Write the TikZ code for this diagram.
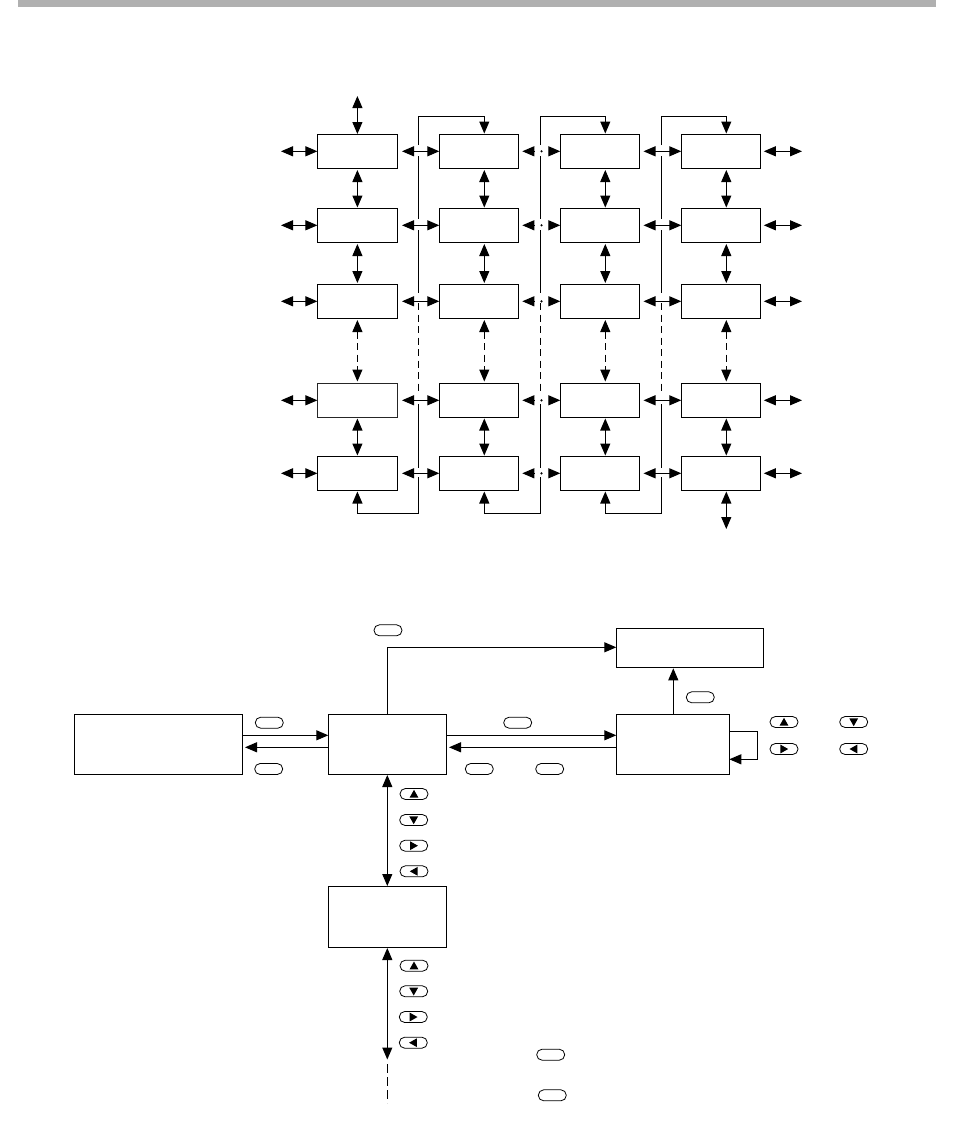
\documentclass[tikz,border=0pt]{standalone}
\usetikzlibrary{arrows.meta}
\tikzset{
  x=1pt,y=-1pt,
  every path/.append style={line width=1.1pt},
  box/.style={draw=black,line width=1.1pt,rectangle,inner sep=0pt,outer sep=0pt,minimum width=#1},
  gridbox/.style={box=80pt,minimum height=34pt},
  tipa/.tip={Triangle[length=12pt,width=10pt]},
  one/.style={-{tipa}},
  two/.style={{tipa}-{tipa}},
  dsh/.style={dash pattern=on 7pt off 4.5pt},
  pill/.style={draw=black,line width=0.8pt,rounded corners=5.4pt,rectangle,inner sep=0pt,outer sep=0pt,minimum width=28pt,minimum height=11pt},
}
\newcommand{\keytri}[3]{% name, position, rotation of the triangle
  \node[pill] (#1) at (#2) {};
  \fill[rotate around={#3:(#1.center)}] ([yshift=4.2pt]#1.center) -- ([xshift=-4.4pt,yshift=-3.6pt]#1.center) -- ([xshift=4.4pt,yshift=-3.6pt]#1.center) -- cycle;
}
\begin{document}
\begin{tikzpicture}
\useasboundingbox (0,0) rectangle (963,1125);
\fill[black!31] (18,0) rectangle (936,7);
% grid boxes
\foreach \c/\x/\w in {1/357.4/80,2/478.8/79,3/599.8/79,4/720.8/79}{
  \foreach \r/\y in {1/151.3,2/225.3,3/301.3,4/400.3,5/473.3}{
    \node[gridbox,minimum width=\w pt] (g\r\c) at (\x,\y) {};
  }
}
\node[gridbox,minimum width=80pt,draw=black!85,line width=1.2pt,fill=white] (g41) at (357.4,400.3) {};
% named free ends
\coordinate (top1) at (357.4,96);
\coordinate (bot4) at (726.3,529);
\foreach \r/\y in {1/151.3,2/225.3,3/301.3,4/400.3,5/473.3}{
  \coordinate (ll\r) at (281,\y);
  \coordinate (rr\r) at (802,\y);
  \draw[two] (ll\r) -- (g\r1.west);
  \draw[two] (g\r4.east) ++(3.5,0) -- (rr\r);
  \draw[two] (402,\y) -- (g\r2.west);
  \draw[two] (643.5,\y) -- (g\r4.west);
  % broken connector across the middle trunk
  \coordinate (mm\r) at (541.5,\y);
  \draw[one] (534,\y) -- (522.3,\y);
  \draw[one] (549,\y) -- (g\r3.west);
  \fill (mm\r) circle (1.2pt);
}
% vertical connectors
\foreach \c/\x in {1/357.4,2/484.3,3/605.3,4/726.3}{
  \draw[two] (\x,170) -- (\x,207.5);
  \draw[two] (\x,244) -- (\x,283);
  \draw[two,dsh] (\x,320) -- (\x,381.5);
  \draw[two] (\x,418.5) -- (\x,455.5);
}
\draw[two] (top1) -- (357.4,134);
\draw[two] (726.3,491.5) -- (bot4);
% trunks
\foreach \x/\tx/\bx in {418.3/484.3/357.4,540.3/605.3/484.3,661.7/726.3/605.3}{
  \draw[one] (\x,145) -- (\x,116.5) -- (\tx,116.5) -- (\tx,133.5);
  \draw (\x,156) -- (\x,219);
  \draw (\x,230) -- (\x,293);
  \draw[dsh] (\x,303) -- (\x,395);
  \draw (\x,404) -- (\x,468);
  \draw[one] (\x,477) -- (\x,513.3) -- (\bx,513.3) -- (\bx,491.5);
}
% lower diagram
\node[box=168pt,minimum height=60pt] (left) at (158.3,744.3) {};
\node[box=118.4pt,minimum height=60pt] (mid) at (387.5,744.3) {};
\node[box=118.4pt,minimum height=61pt] (low) at (387.5,916.8) {};
\node[box=113pt,minimum height=60pt] (rgt) at (672.8,744.3) {};
\node[box=147pt,minimum height=39pt] (top) at (689.8,647.8) {};
\coordinate (end) at (387.3,1103);
\coordinate (mide) at (387.3,1059.5);
\draw[one] (387.3,714.3) -- (387.3,647.3) -- (top.west |- 0,647.3);
\draw[one] (673.3,714.3) -- (673.3,668.3);
\draw[one] (left.east |- 0,735.3) -- (mid.west |- 0,735.3);
\draw[one] (mid.west |- 0,747.3) -- (245,747.3);
\draw[one] (mid.east |- 0,735.3) -- (rgt.west |- 0,735.3);
\draw[one] (rgt.west |- 0,747.3) -- (449,747.3);
\draw[one] (rgt.east |- 0,731.3) -- (757.3,731.3) -- (757.3,759.3) -- (rgt.east |- 0,759.3);
\draw[two] (387.3,775) -- (387.3,886);
\draw[two] (387.3,948) -- (mide);
\draw[dash pattern=on 9pt off 4pt] (387.3,1064) -- (end);
% keys without a triangle
\foreach \n/\p in {k1/{388,630.3},k2/{269.3,722.7},k3/{268.7,769},k4/{517.7,722.7},k5/{479.3,769},k6/{549.7,769},k7/{700.3,697.3},k8/{550.7,1054.7},k9/{552.3,1095.3}}{
  \node[pill] (\n) at (\p) {};
}
% keys with a triangle
\keytri{ka}{414,794}{0}
\keytri{kb}{413.7,820}{180}
\keytri{kc}{413.7,845.7}{-90}
\keytri{kd}{414,871.3}{90}
\keytri{ke}{784,722}{0}
\keytri{kf}{853.7,722}{180}
\keytri{kg}{784,749}{-90}
\keytri{kh}{853.7,749}{90}
\keytri{ki}{414,965.7}{0}
\keytri{kj}{413.7,991.3}{180}
\keytri{kl}{413.3,1017}{-90}
\keytri{km}{413.3,1042.7}{90}
\end{tikzpicture}
\end{document}
